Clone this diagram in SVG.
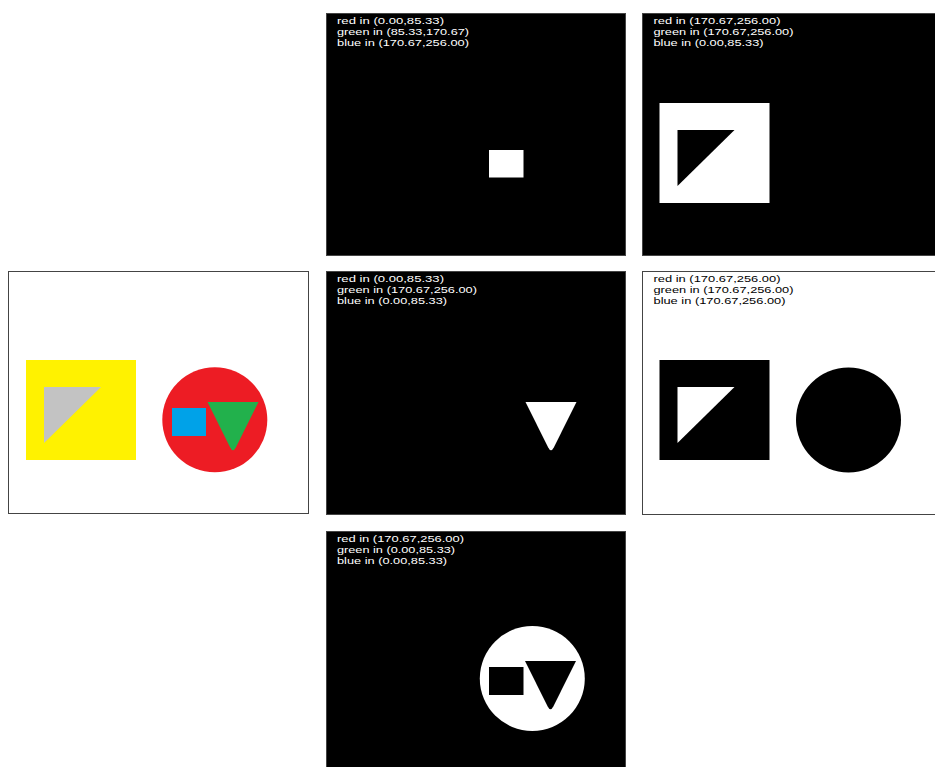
<svg xmlns="http://www.w3.org/2000/svg" width="935" height="767" viewBox="0 0 935 767">
<style>
.frame{stroke:#444;stroke-width:1}
.lbl{font-family:"Liberation Sans","DejaVu Sans",sans-serif;font-size:9.5px}
.w{fill:#fff}
.k{fill:#000}
</style>
<defs>
<path id="tri" d="M36,116 L93,116 L36,172 Z"/>
<path id="gtri" d="M199.5,131 L250.5,131 L227.8,176.5 Q225,182 222.2,176.5 Z"/>
</defs>
<rect width="935" height="767" fill="#fff"/>

<g id="original" transform="translate(8,271)">
<rect class="frame" x="0.5" y="0.5" width="300" height="242" fill="#fff"/>
<rect x="18" y="89" width="110" height="100" fill="#fff200"/>
<use href="#tri" fill="#c3c3c3"/>
<circle cx="206.8" cy="148.8" r="52.5" fill="#ed1c24"/>
<rect x="164" y="137" width="34" height="28" fill="#00a2e8"/>
<use href="#gtri" fill="#22b14c"/>
</g>

<g id="mask-blue" transform="translate(326,13)">
<rect class="frame" x="0.5" y="0.5" width="299" height="242" fill="#000"/>
<rect x="163" y="137" width="34.5" height="27.5" fill="#fff"/>
<g class="lbl w">
<text x="11" y="10.5" textLength="107" lengthAdjust="spacingAndGlyphs">red in (0.00,85.33)</text>
<text x="11" y="21.5" textLength="132" lengthAdjust="spacingAndGlyphs">green in (85.33,170.67)</text>
<text x="11" y="32.5" textLength="132" lengthAdjust="spacingAndGlyphs">blue in (170.67,256.00)</text>
</g>
</g>

<g id="mask-yellow" transform="translate(642,13)">
<rect class="frame" x="0.5" y="0.5" width="300" height="242" fill="#000"/>
<rect x="17.5" y="90" width="110" height="100" fill="#fff"/>
<path d="M35.5,117 L92.5,117 L35.5,173 Z" fill="#000"/>
<g class="lbl w">
<text x="11.5" y="10.5" textLength="127" lengthAdjust="spacingAndGlyphs">red in (170.67,256.00)</text>
<text x="11.5" y="21.5" textLength="140" lengthAdjust="spacingAndGlyphs">green in (170.67,256.00)</text>
<text x="11.5" y="32.5" textLength="110" lengthAdjust="spacingAndGlyphs">blue in (0.00,85.33)</text>
</g>
</g>

<g id="mask-green" transform="translate(326,271)">
<rect class="frame" x="0.5" y="0.5" width="299" height="243" fill="#000"/>
<use href="#gtri" fill="#fff"/>
<g class="lbl w">
<text x="11" y="10.5" textLength="107" lengthAdjust="spacingAndGlyphs">red in (0.00,85.33)</text>
<text x="11" y="21.5" textLength="140" lengthAdjust="spacingAndGlyphs">green in (170.67,256.00)</text>
<text x="11" y="32.5" textLength="110" lengthAdjust="spacingAndGlyphs">blue in (0.00,85.33)</text>
</g>
</g>

<g id="mask-white" transform="translate(642,271)">
<rect class="frame" x="0.5" y="0.5" width="300" height="243" fill="#fff"/>
<rect x="17.5" y="89" width="110" height="100" fill="#000"/>
<path d="M35.5,116 L92.5,116 L35.5,172 Z" fill="#fff"/>
<circle cx="206.5" cy="149" r="52.5" fill="#000"/>
<g class="lbl k">
<text x="11.5" y="10.5" textLength="127" lengthAdjust="spacingAndGlyphs">red in (170.67,256.00)</text>
<text x="11.5" y="21.5" textLength="140" lengthAdjust="spacingAndGlyphs">green in (170.67,256.00)</text>
<text x="11.5" y="32.5" textLength="132" lengthAdjust="spacingAndGlyphs">blue in (170.67,256.00)</text>
</g>
</g>

<g id="mask-red" transform="translate(326,531)">
<rect class="frame" x="0.5" y="0.5" width="299" height="242" fill="#000"/>
<circle cx="206.3" cy="147.5" r="52.5" fill="#fff"/>
<rect x="163" y="136" width="34.5" height="28" fill="#000"/>
<path d="M199,130 L250,130 L227.3,175.5 Q224.5,181 221.7,175.5 Z" fill="#000"/>
<g class="lbl w">
<text x="11" y="10.5" textLength="127" lengthAdjust="spacingAndGlyphs">red in (170.67,256.00)</text>
<text x="11" y="21.5" textLength="118" lengthAdjust="spacingAndGlyphs">green in (0.00,85.33)</text>
<text x="11" y="32.5" textLength="110" lengthAdjust="spacingAndGlyphs">blue in (0.00,85.33)</text>
</g>
</g>
</svg>
